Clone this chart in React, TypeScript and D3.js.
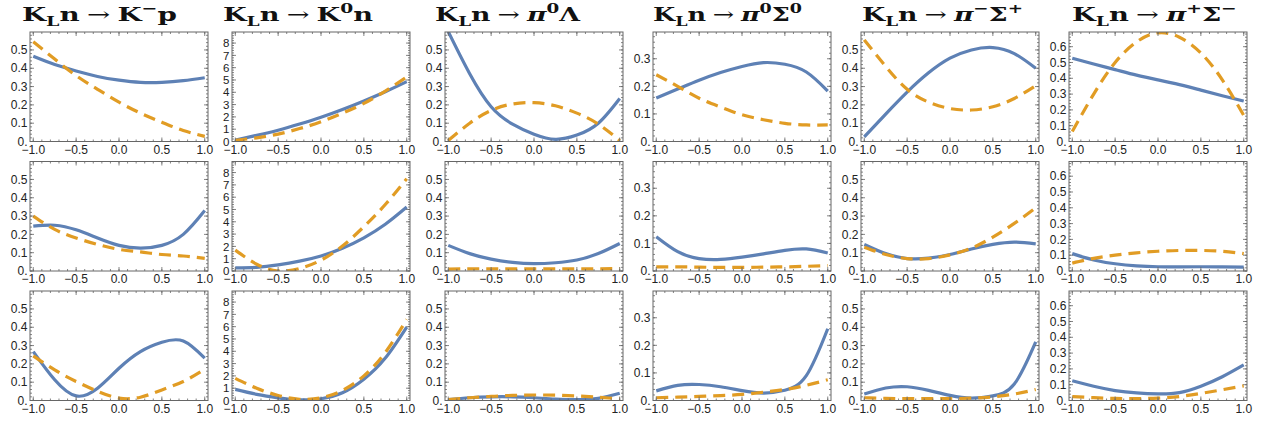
import React from "react";
import * as d3 from "d3";

// ---------- data ----------
const xGrid = [-1, -0.75, -0.5, -0.25, 0, 0.25, 0.5, 0.75, 1];

const kmpR1Blue = [0.465, 0.42, 0.385, 0.355, 0.335, 0.323, 0.323, 0.332, 0.348];
const kmpR1Orange = [0.545, 0.45, 0.36, 0.285, 0.215, 0.155, 0.105, 0.06, 0.028];
const kmpR2Blue = [0.245, 0.25, 0.225, 0.18, 0.14, 0.125, 0.14, 0.2, 0.33];
const kmpR2Orange = [0.3, 0.227, 0.18, 0.145, 0.118, 0.104, 0.09, 0.082, 0.069];
const kmpR3Blue = [0.267, 0.113, 0.025, 0.067, 0.176, 0.267, 0.318, 0.325, 0.231];
const kmpR3Orange = [0.244, 0.167, 0.104, 0.05, 0.013, 0.018, 0.058, 0.104, 0.171];

const k0nR1Blue = [0.12, 0.5, 0.92, 1.42, 1.97, 2.6, 3.3, 4.05, 4.87];
const k0nR1Orange = [0.1, 0.3, 0.6, 1.05, 1.6, 2.3, 3.1, 4.1, 5.25];
const k0nR2Blue = [0.25, 0.3, 0.5, 0.8, 1.22, 1.85, 2.7, 3.8, 5.2];
const k0nR2Orange = [1.7, 0.55, 0.0, 0.2, 0.88, 2.03, 3.6, 5.4, 7.5];
const k0nR3Blue = [0.9, 0.5, 0.22, 0.05, 0.14, 0.63, 1.73, 3.45, 5.97];
const k0nR3Orange = [1.8, 1.0, 0.41, 0.1, 0.22, 0.82, 2.0, 3.9, 6.6];

const pi0LR1Blue = [0.6, 0.37, 0.19, 0.095, 0.04, 0.012, 0.035, 0.1, 0.235];
const pi0LR1Orange = [0.005, 0.1, 0.17, 0.205, 0.212, 0.195, 0.155, 0.095, 0.005];
const pi0LR2Blue = [0.14, 0.095, 0.065, 0.047, 0.04, 0.045, 0.06, 0.095, 0.15];
const pi0LR2Orange = [0.01, 0.012, 0.012, 0.012, 0.012, 0.012, 0.012, 0.012, 0.013];
const pi0LR3Blue = [0.005, 0.015, 0.02, 0.02, 0.015, 0.008, 0.005, 0.012, 0.04];
const pi0LR3Orange = [0.005, 0.015, 0.022, 0.028, 0.03, 0.029, 0.025, 0.018, 0.009];

const pi0S0R1Blue = [0.158, 0.19, 0.222, 0.25, 0.272, 0.286, 0.28, 0.252, 0.183];
const pi0S0R1Orange = [0.242, 0.2, 0.157, 0.125, 0.097, 0.079, 0.066, 0.06, 0.06];
const pi0S0R2Blue = [0.124, 0.07, 0.045, 0.042, 0.05, 0.062, 0.075, 0.08, 0.065];
const pi0S0R2Orange = [0.015, 0.015, 0.014, 0.013, 0.013, 0.014, 0.015, 0.017, 0.02];
const pi0S0R3Blue = [0.035, 0.055, 0.058, 0.05, 0.036, 0.027, 0.037, 0.09, 0.26];
const pi0S0R3Orange = [0.01, 0.012, 0.015, 0.018, 0.022, 0.03, 0.04, 0.055, 0.075];

const pimSpR1Blue = [0.025, 0.15, 0.27, 0.375, 0.455, 0.5, 0.513, 0.48, 0.4];
const pimSpR1Orange = [0.555, 0.41, 0.285, 0.215, 0.18, 0.172, 0.19, 0.235, 0.305];
const pimSpR2Blue = [0.145, 0.095, 0.068, 0.07, 0.09, 0.12, 0.145, 0.158, 0.148];
const pimSpR2Orange = [0.13, 0.09, 0.068, 0.068, 0.088, 0.125, 0.185, 0.26, 0.345];
const pimSpR3Blue = [0.035, 0.068, 0.075, 0.055, 0.028, 0.013, 0.025, 0.09, 0.32];
const pimSpR3Orange = [0.015, 0.012, 0.01, 0.01, 0.01, 0.013, 0.02, 0.035, 0.06];

const pipSmR1Blue = [0.527, 0.49, 0.455, 0.42, 0.39, 0.36, 0.325, 0.29, 0.256];
const pipSmR1Orange = [0.063, 0.3, 0.5, 0.63, 0.688, 0.66, 0.56, 0.39, 0.165];
const pipSmR2Blue = [0.11, 0.07, 0.046, 0.033, 0.027, 0.026, 0.027, 0.026, 0.025];
const pipSmR2Orange = [0.05, 0.08, 0.1, 0.115, 0.125, 0.13, 0.13, 0.125, 0.11];
const pipSmR3Blue = [0.125, 0.09, 0.063, 0.048, 0.042, 0.05, 0.09, 0.15, 0.225];
const pipSmR3Orange = [0.025, 0.018, 0.013, 0.012, 0.015, 0.025, 0.045, 0.068, 0.093];

const xTickValues = [-1, -0.5, 0, 0.5, 1];
const xTickLabels = ["\u22121.0", "\u22120.5", "0.0", "0.5", "1.0"];

const yTicksA = [0, 0.1, 0.2, 0.3, 0.4, 0.5];
const yLabelsA = ["0.", "0.1", "0.2", "0.3", "0.4", "0.5"];
const yTicksB = [0, 1, 2, 3, 4, 5, 6, 7, 8];
const yLabelsB = ["0", "1", "2", "3", "4", "5", "6", "7", "8"];
const yTicksC = [0, 0.1, 0.2, 0.3];
const yLabelsC = ["0.", "0.1", "0.2", "0.3"];
const yTicksD = [0, 0.1, 0.2, 0.3, 0.4, 0.5, 0.6];
const yLabelsD = ["0.", "0.1", "0.2", "0.3", "0.4", "0.5", "0.6"];

const yMaxes = [0.598, 8.9, 0.598, 0.397, 0.598, 0.693];

// ---------- layout / style ----------
const BLUE = "#5E81B5";
const ORANGE = "#E19C24";
const FRAME = "#666";
const colLefts = [30, 232, 445, 653, 861, 1069];
const rowTops = [32, 161.5, 291];
const PW = 178;
const PH = 109.5;
const titleX = [22, 223, 435, 653, 862, 1072];
const titleW = [155, 150, 145, 149, 161, 165];

type Col = {
  key: string;
  yMax: number;
  yTicks: number[];
  yLabels: string[];
  minorStep: number;
  labelSize: number;
  series: [number[], number[]][];
  title: { final1: string; sup1: string; final2?: string; sup2?: string; pi?: boolean };
};

const columns: Col[] = [
  { key: "kmp", yMax: yMaxes[0], yTicks: yTicksA, yLabels: yLabelsA, minorStep: 0.02, labelSize: 12,
    series: [[kmpR1Blue, kmpR1Orange], [kmpR2Blue, kmpR2Orange], [kmpR3Blue, kmpR3Orange]],
    title: { final1: "K", sup1: "\u2212", final2: "p" } },
  { key: "k0n", yMax: yMaxes[1], yTicks: yTicksB, yLabels: yLabelsB, minorStep: 0.2, labelSize: 11.5,
    series: [[k0nR1Blue, k0nR1Orange], [k0nR2Blue, k0nR2Orange], [k0nR3Blue, k0nR3Orange]],
    title: { final1: "K", sup1: "0", final2: "n" } },
  { key: "pi0L", yMax: yMaxes[2], yTicks: yTicksA, yLabels: yLabelsA, minorStep: 0.02, labelSize: 12,
    series: [[pi0LR1Blue, pi0LR1Orange], [pi0LR2Blue, pi0LR2Orange], [pi0LR3Blue, pi0LR3Orange]],
    title: { final1: "\u03C0", sup1: "0", final2: "\u039B", pi: true } },
  { key: "pi0S0", yMax: yMaxes[3], yTicks: yTicksC, yLabels: yLabelsC, minorStep: 0.02, labelSize: 12,
    series: [[pi0S0R1Blue, pi0S0R1Orange], [pi0S0R2Blue, pi0S0R2Orange], [pi0S0R3Blue, pi0S0R3Orange]],
    title: { final1: "\u03C0", sup1: "0", final2: "\u03A3", sup2: "0", pi: true } },
  { key: "pimSp", yMax: yMaxes[4], yTicks: yTicksA, yLabels: yLabelsA, minorStep: 0.02, labelSize: 12,
    series: [[pimSpR1Blue, pimSpR1Orange], [pimSpR2Blue, pimSpR2Orange], [pimSpR3Blue, pimSpR3Orange]],
    title: { final1: "\u03C0", sup1: "\u2212", final2: "\u03A3", sup2: "+", pi: true } },
  { key: "pipSm", yMax: yMaxes[5], yTicks: yTicksD, yLabels: yLabelsD, minorStep: 0.02, labelSize: 12,
    series: [[pipSmR1Blue, pipSmR1Orange], [pipSmR2Blue, pipSmR2Orange], [pipSmR3Blue, pipSmR3Orange]],
    title: { final1: "\u03C0", sup1: "+", final2: "\u03A3", sup2: "\u2212", pi: true } },
];

const xMinor = d3.range(-1, 1.0001, 0.1);

function Panel({ col, ci, ri }: { col: Col; ci: number; ri: number }) {
  const left = colLefts[ci];
  const top = rowTops[ri];
  const x = d3.scaleLinear().domain([-1.038, 1.038]).range([left, left + PW]);
  const y = d3.scaleLinear().domain([0, col.yMax]).range([top + PH, top]);
  const line = d3
    .line<number>()
    .x((_, i) => x(xGrid[i]))
    .y((d) => y(d))
    .curve(d3.curveNatural);
  const [blue, orange] = col.series[ri];
  const clipId = `clip-${col.key}-${ri}`;
  const yMinor = d3.range(0, col.yMax, col.minorStep);
  return (
    <g>
      <defs>
        <clipPath id={clipId}>
          <rect x={left} y={top} width={PW} height={PH} />
        </clipPath>
      </defs>
      <g clipPath={`url(#${clipId})`}>
        <path d={line(blue) || ""} fill="none" stroke={BLUE} strokeWidth={3.2} />
        <path d={line(orange) || ""} fill="none" stroke={ORANGE} strokeWidth={3.2} strokeDasharray="12,7" />
      </g>
      <g stroke={FRAME} strokeWidth={0.8}>
        {xMinor.map((v, i) => (
          <g key={"xm" + i}>
            <line x1={x(v)} x2={x(v)} y1={top + PH} y2={top + PH - 2} />
            <line x1={x(v)} x2={x(v)} y1={top} y2={top + 2} />
          </g>
        ))}
        {xTickValues.map((v, i) => (
          <g key={"xM" + i}>
            <line x1={x(v)} x2={x(v)} y1={top + PH} y2={top + PH - 4} />
            <line x1={x(v)} x2={x(v)} y1={top} y2={top + 4} />
          </g>
        ))}
        {yMinor.map((v, i) => (
          <g key={"ym" + i}>
            <line x1={left} x2={left + 2} y1={y(v)} y2={y(v)} />
            <line x1={left + PW} x2={left + PW - 2} y1={y(v)} y2={y(v)} />
          </g>
        ))}
        {col.yTicks.map((v, i) => (
          <g key={"yM" + i}>
            <line x1={left} x2={left + 4} y1={y(v)} y2={y(v)} />
            <line x1={left + PW} x2={left + PW - 4} y1={y(v)} y2={y(v)} />
          </g>
        ))}
      </g>
      <rect x={left} y={top} width={PW} height={PH} fill="none" stroke={FRAME} strokeWidth={1} />
      <g fontFamily="'Liberation Sans', Arial, sans-serif" fill="#222">
        {xTickValues.map((v, i) => (
          <text key={"xl" + i} x={x(v)} y={top + PH + 12} textAnchor="middle" fontSize={12}>
            {xTickLabels[i]}
          </text>
        ))}
        {col.yTicks.map((v, i) => (
          <text key={"yl" + i} x={left - 2.5} y={y(v) + 4.2} textAnchor="end" fontSize={col.labelSize}>
            {col.yLabels[i]}
          </text>
        ))}
      </g>
    </g>
  );
}

function Title({ col, ci }: { col: Col; ci: number }) {
  const t = col.title;
  return (
    <text
      x={titleX[ci]}
      y={21}
      fontFamily="'DejaVu Serif', 'Liberation Serif', serif"
      fontWeight="bold"
      fontSize={19}
      fill="#111"
      textLength={titleW[ci]}
      lengthAdjust="spacingAndGlyphs"
    >
      <tspan>K</tspan>
      <tspan fontSize={13} dy={5}>L</tspan>
      <tspan dy={-5}>n</tspan>
      <tspan fontWeight="normal" dx={5}>{"\u2192"}</tspan>
      <tspan dx={5} fontStyle={t.pi ? "italic" : "normal"}>{t.final1}</tspan>
      <tspan fontSize={13} dy={-8}>{t.sup1}</tspan>
      <tspan dy={8}>{t.final2}</tspan>
      {t.sup2 ? <tspan fontSize={13} dy={-8}>{t.sup2}</tspan> : null}
    </text>
  );
}

export default function App() {
  return (
    <svg width={1266} height={425} style={{ position: "absolute", left: 0, top: 0, background: "#fff" }}>
      <rect width={1266} height={425} fill="#fff" />
      {columns.map((col, ci) => (
        <g key={col.key}>
          <Title col={col} ci={ci} />
          {[0, 1, 2].map((ri) => (
            <Panel key={ri} col={col} ci={ci} ri={ri} />
          ))}
        </g>
      ))}
    </svg>
  );
}
